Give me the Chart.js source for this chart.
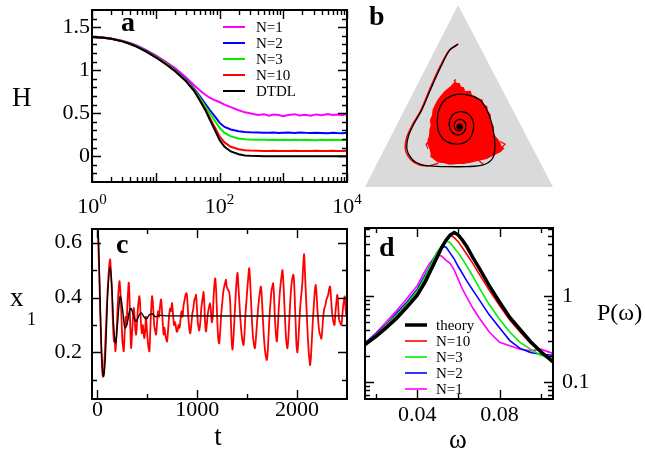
<!DOCTYPE html>
<html>
<head>
<meta charset="utf-8">
<script src="https://cdn.jsdelivr.net/npm/chart.js@4.4.1/dist/chart.umd.min.js"></script>
<style>
  html, body { margin: 0; padding: 0; background: #fff; }
  #wrap { position: relative; width: 645px; height: 456px; overflow: hidden; }
  #wrap canvas { position: absolute; left: 0; top: 0; }
</style>
</head>
<body>
<div id="wrap">
  <canvas id="pa" width="645" height="456"></canvas>
  <canvas id="pb" width="645" height="456"></canvas>
  <canvas id="pc" width="645" height="456"></canvas>
  <canvas id="pd" width="645" height="456"></canvas>
</div>
<script>
// ---------- panel a : entropy H vs time (log) ----------
var tA = [1, 1.5, 2, 3, 4, 5, 7, 10, 15, 20, 30, 40, 50, 60, 70, 85, 100, 120, 150, 200,
  250, 300, 400, 500, 600, 700, 850, 1000, 1200, 1500, 1800, 2200, 2700, 3300, 4000, 5000, 6000, 7000, 8500, 10000];
var hN1 = [1.386, 1.38, 1.369, 1.342, 1.315, 1.288, 1.237, 1.172, 1.09, 1.025, 0.915, 0.825, 0.76, 0.715, 0.68, 0.65, 0.63, 0.6, 0.57, 0.535,
  0.51, 0.5, 0.48, 0.487, 0.472, 0.485, 0.478, 0.466, 0.48, 0.489, 0.474, 0.482, 0.47, 0.486, 0.476, 0.49, 0.479, 0.485, 0.477, 0.49];
var hN2 = [1.386, 1.379, 1.367, 1.338, 1.31, 1.281, 1.228, 1.16, 1.075, 1.005, 0.89, 0.785, 0.69, 0.61, 0.54, 0.46, 0.39, 0.34, 0.31, 0.29,
  0.282, 0.278, 0.275, 0.274, 0.272, 0.276, 0.27, 0.273, 0.275, 0.271, 0.276, 0.272, 0.27, 0.274, 0.271, 0.268, 0.273, 0.27, 0.268, 0.272];
var hN3 = [1.386, 1.378, 1.366, 1.337, 1.308, 1.279, 1.225, 1.157, 1.07, 1.0, 0.88, 0.775, 0.67, 0.58, 0.5, 0.41, 0.33, 0.27, 0.23, 0.205,
  0.197, 0.193, 0.19, 0.19, 0.188, 0.191, 0.189, 0.19, 0.187, 0.19, 0.188, 0.191, 0.189, 0.186, 0.19, 0.188, 0.19, 0.187, 0.189, 0.19];
var hN10 = [1.386, 1.378, 1.365, 1.335, 1.305, 1.275, 1.22, 1.15, 1.06, 0.99, 0.87, 0.76, 0.645, 0.545, 0.45, 0.33, 0.23, 0.16, 0.11, 0.08,
  0.07, 0.065, 0.062, 0.061, 0.06, 0.062, 0.06, 0.061, 0.06, 0.062, 0.06, 0.061, 0.06, 0.062, 0.061, 0.06, 0.062, 0.06, 0.061, 0.062];
var hDTDL = [1.386, 1.378, 1.365, 1.335, 1.305, 1.275, 1.22, 1.15, 1.06, 0.99, 0.87, 0.76, 0.64, 0.535, 0.43, 0.3, 0.19, 0.11, 0.055, 0.022,
  0.009, 0.004, 0.001, 0, 0, 0, 0, 0, 0, 0, 0, 0, 0, 0, 0, 0, 0, 0, 0, 0];
var aYTicks = [0, 0.5, 1, 1.5];
var aYMinor = [-0.2, -0.1, 0.1, 0.2, 0.3, 0.4, 0.6, 0.7, 0.8, 0.9, 1.1, 1.2, 1.3, 1.4, 1.6];
var aXMajor = [1, 10, 100, 1000, 10000];
var aXMinor = [2, 3, 4, 5, 6, 7, 8, 9, 20, 30, 40, 50, 60, 70, 80, 90, 200, 300, 400, 500, 600, 700, 800, 900,
  2000, 3000, 4000, 5000, 6000, 7000, 8000, 9000];
var aXLabels = [1, 100, 10000];
var aXExp = ['0', '2', '4'];

// ---------- panel b : simplex trajectories ----------
var triX = [0, 1, 0.495, 0];
var triY = [0, 0, 1, 0];
var detX = [0.496, 0.452, 0.408, 0.355, 0.302, 0.257, 0.230, 0.222, 0.230, 0.266, 0.328, 0.435, 0.541, 0.629, 0.679, 0.691,
  0.682, 0.656, 0.612, 0.549, 0.488, 0.435, 0.399, 0.385, 0.395, 0.435, 0.496, 0.549, 0.576, 0.573, 0.544, 0.502,
  0.466, 0.448, 0.461, 0.496, 0.528, 0.537, 0.520, 0.491, 0.475, 0.482, 0.505, 0.518, 0.505, 0.493, 0.5, 0.502];
var detY = [0.784, 0.753, 0.670, 0.551, 0.423, 0.341, 0.276, 0.221, 0.185, 0.139, 0.117, 0.112, 0.112, 0.121, 0.158, 0.221,
  0.313, 0.405, 0.478, 0.505, 0.509, 0.487, 0.441, 0.368, 0.295, 0.249, 0.236, 0.258, 0.313, 0.368, 0.405, 0.414,
  0.396, 0.350, 0.304, 0.286, 0.304, 0.341, 0.368, 0.368, 0.346, 0.317, 0.309, 0.331, 0.346, 0.335, 0.324, 0.331];
var stoStartX = [0.494, 0.448, 0.402, 0.349, 0.296, 0.25, 0.222, 0.214, 0.223, 0.26, 0.325, 0.39];
var stoStartY = [0.786, 0.752, 0.668, 0.549, 0.42, 0.338, 0.273, 0.22, 0.18, 0.136, 0.115, 0.13];
var cloudX = [0.500, 0.508, 0.523, 0.530, 0.559, 0.566, 0.585, 0.598, 0.621, 0.628, 0.647, 0.650, 0.665, 0.662, 0.682, 0.679,
  0.691, 0.703, 0.718, 0.722, 0.736, 0.726, 0.718, 0.700, 0.682, 0.668, 0.647, 0.622, 0.594, 0.562, 0.523, 0.492,
  0.452, 0.422, 0.390, 0.372, 0.355, 0.352, 0.346, 0.336, 0.337, 0.345, 0.346, 0.353, 0.349, 0.360, 0.363, 0.374,
  0.390, 0.404, 0.426, 0.440, 0.461, 0.478];
var cloudY = [0.570, 0.548, 0.545, 0.522, 0.524, 0.502, 0.496, 0.480, 0.478, 0.452, 0.441, 0.418, 0.396, 0.362, 0.331, 0.300,
  0.276, 0.262, 0.240, 0.224, 0.213, 0.202, 0.194, 0.186, 0.176, 0.170, 0.158, 0.152, 0.145, 0.137, 0.130, 0.131,
  0.126, 0.134, 0.139, 0.151, 0.166, 0.188, 0.213, 0.236, 0.258, 0.284, 0.313, 0.338, 0.368, 0.393, 0.423, 0.448,
  0.478, 0.497, 0.524, 0.536, 0.555, 0.574];
var strayX = [0.49, 0.475, 0.485, null, 0.34, 0.325, 0.335, null, 0.72, 0.745, 0.73, null, 0.60, 0.63, 0.61];
var strayY = [0.56, 0.585, 0.59, null, 0.25, 0.235, 0.21, null, 0.25, 0.235, 0.22, null, 0.15, 0.125, 0.14];
var fixX = [0.502];
var fixY = [0.331];

// ---------- panel c : x1 vs t ----------
var tDet = [0, 15, 30, 45, 60, 75, 90, 105, 127, 145, 160, 180, 200, 215, 230, 250, 265, 277, 300, 320, 337, 360, 387,
  410, 437, 465, 490, 520, 550, 580, 620, 700, 2500];
var xDet = [0.72, 0.55, 0.33, 0.17, 0.112, 0.16, 0.29, 0.43, 0.511, 0.43, 0.31, 0.234, 0.30, 0.37, 0.405, 0.36, 0.31, 0.289,
  0.31, 0.35, 0.36, 0.335, 0.313, 0.33, 0.344, 0.33, 0.322, 0.337, 0.34, 0.33, 0.335, 0.333, 0.333];
var tSto = [0, 20, 40, 53, 65, 80, 95, 110, 120, 127, 135, 145, 155, 165, 172, 180, 190, 200, 210, 220, 228, 235, 243, 250,
  258, 263, 272, 282, 292, 300, 308, 313, 320, 328, 337, 345, 353, 363, 372, 380, 387, 395, 405, 413, 420, 428, 435, 445,
  455, 462, 470, 478, 485, 492, 500, 510, 520, 528, 537, 547, 553, 560, 568, 577, 587, 597, 607, 617, 627, 637, 645, 655,
  663, 670, 678, 688, 697, 707, 717, 727, 737, 747, 757, 767, 777, 787, 795, 803, 812, 822, 832, 842, 852, 862, 872, 883,
  893, 902, 912, 922, 930, 940, 950, 960, 970, 980, 987, 995, 1005, 1012, 1020, 1030, 1040, 1050, 1058, 1063, 1070, 1078,
  1087, 1095, 1105, 1115, 1127, 1135, 1145, 1155, 1163, 1172, 1180, 1188, 1196, 1205, 1213, 1220, 1230, 1240, 1250, 1260,
  1270, 1280, 1287, 1295, 1305, 1320, 1330, 1338, 1345, 1353, 1362, 1372, 1382, 1392, 1403, 1412, 1422, 1432, 1443, 1453,
  1463, 1473, 1483, 1493, 1503, 1512, 1520, 1528, 1537, 1547, 1557, 1567, 1577, 1587, 1597, 1607, 1617, 1627, 1637, 1645,
  1655, 1665, 1675, 1685, 1697, 1705, 1715, 1725, 1735, 1745, 1752, 1760, 1768, 1777, 1787, 1797, 1805, 1815, 1825, 1835,
  1845, 1853, 1862, 1872, 1882, 1892, 1903, 1912, 1922, 1932, 1942, 1952, 1963, 1972, 1980, 1988, 1995, 2003, 2012, 2022,
  2032, 2042, 2052, 2062, 2070, 2078, 2087, 2097, 2107, 2117, 2125, 2130, 2138, 2147, 2157, 2167, 2177, 2187, 2195, 2205,
  2215, 2225, 2235, 2243, 2252, 2262, 2272, 2282, 2292, 2302, 2312, 2320, 2330, 2338, 2347, 2355, 2365, 2375, 2383, 2393,
  2403, 2412, 2420, 2430, 2443, 2452, 2462, 2470, 2477, 2485, 2495, 2500];
var xSto = [0.70, 0.45, 0.2, 0.112, 0.14, 0.25, 0.38, 0.48, 0.525, 0.539, 0.49, 0.42, 0.3, 0.24, 0.25, 0.204, 0.26, 0.35, 0.42,
  0.46, 0.43, 0.38, 0.30, 0.24, 0.215, 0.204, 0.27, 0.33, 0.30, 0.38, 0.43, 0.454, 0.41, 0.3, 0.216, 0.26, 0.31, 0.362, 0.33,
  0.28, 0.265, 0.3, 0.36, 0.39, 0.405, 0.37, 0.31, 0.27, 0.3, 0.27, 0.252, 0.28, 0.33, 0.3, 0.26, 0.22, 0.204, 0.27, 0.35,
  0.405, 0.39, 0.35, 0.3, 0.28, 0.265, 0.31, 0.35, 0.33, 0.37, 0.393, 0.36, 0.3, 0.265, 0.29, 0.27, 0.25, 0.24, 0.28, 0.33,
  0.36, 0.35, 0.38, 0.34, 0.3, 0.31, 0.29, 0.275, 0.28, 0.3, 0.29, 0.32, 0.35, 0.33, 0.37, 0.39, 0.41, 0.416, 0.38, 0.32,
  0.28, 0.27, 0.3, 0.34, 0.36, 0.39, 0.4, 0.41, 0.37, 0.31, 0.29, 0.28, 0.31, 0.36, 0.39, 0.41, 0.42, 0.38, 0.31, 0.276, 0.3,
  0.34, 0.36, 0.38, 0.36, 0.31, 0.33, 0.4, 0.45, 0.47, 0.43, 0.36, 0.28, 0.24, 0.233, 0.28, 0.34, 0.38, 0.42, 0.44, 0.455,
  0.465, 0.44, 0.43, 0.42, 0.38, 0.3, 0.24, 0.21, 0.25, 0.32, 0.39, 0.45, 0.49, 0.44, 0.38, 0.32, 0.27, 0.24, 0.227, 0.27,
  0.34, 0.39, 0.44, 0.48, 0.507, 0.47, 0.4, 0.32, 0.26, 0.23, 0.215, 0.25, 0.3, 0.35, 0.39, 0.42, 0.44, 0.41, 0.34, 0.27,
  0.22, 0.19, 0.172, 0.2, 0.27, 0.34, 0.39, 0.43, 0.44, 0.452, 0.41, 0.33, 0.27, 0.24, 0.28, 0.35, 0.41, 0.45, 0.48, 0.5,
  0.46, 0.38, 0.3, 0.24, 0.215, 0.25, 0.32, 0.39, 0.44, 0.47, 0.483, 0.44, 0.36, 0.28, 0.22, 0.2, 0.24, 0.31, 0.37, 0.41,
  0.45, 0.52, 0.558, 0.5, 0.42, 0.34, 0.26, 0.2, 0.17, 0.154, 0.18, 0.24, 0.31, 0.37, 0.42, 0.446, 0.41, 0.35, 0.3, 0.27,
  0.26, 0.25, 0.28, 0.33, 0.36, 0.37, 0.39, 0.4, 0.41, 0.43, 0.44, 0.41, 0.36, 0.33, 0.31, 0.3, 0.34, 0.38, 0.41, 0.37,
  0.32, 0.31, 0.3, 0.33, 0.37, 0.39, 0.404, 0.36, 0.33, 0.34];
var cXMajor = [0, 1000, 2000];
var cXMinor = [500, 1500];
var cYMajor = [0.2, 0.4, 0.6];
var cYMinor = [0.1, 0.3, 0.5];

// ---------- panel d : power spectrum ----------
var omega = [0.0146, 0.02, 0.025, 0.03, 0.035, 0.04, 0.044, 0.046, 0.048, 0.05, 0.052, 0.054, 0.056, 0.058, 0.06, 0.062,
  0.064, 0.067, 0.07, 0.075, 0.08, 0.085, 0.09, 0.095, 0.1, 0.106];
var pTheory = [0.272, 0.339, 0.427, 0.55, 0.741, 1.02, 1.48, 1.86, 2.34, 2.95, 3.72, 4.47, 5.13, 5.5, 5.13, 4.47, 3.8, 2.82,
  2.14, 1.32, 0.851, 0.562, 0.407, 0.295, 0.225, 0.17];
var pN10 = [0.275, 0.347, 0.447, 0.575, 0.776, 1.07, 1.55, 1.95, 2.45, 3.09, 3.8, 4.57, 5.13, 4.79, 4.27, 3.63, 3.09, 2.4,
  1.82, 1.17, 0.776, 0.525, 0.38, 0.282, 0.224, 0.166];
var pN3 = [0.275, 0.355, 0.457, 0.603, 0.813, 1.15, 1.7, 2.14, 2.69, 3.31, 3.89, 4.37, 4.17, 3.63, 3.16, 2.69, 2.24, 1.7,
  1.26, 0.794, 0.537, 0.38, 0.288, 0.24, 0.204, 0.186];
var pN2 = [0.282, 0.363, 0.468, 0.631, 0.851, 1.2, 1.78, 2.19, 2.75, 3.31, 3.76, 3.72, 3.16, 2.69, 2.19, 1.82, 1.51, 1.17,
  0.912, 0.603, 0.427, 0.302, 0.245, 0.219, 0.209, 0.204];
var pN1 = [0.282, 0.372, 0.501, 0.676, 0.933, 1.32, 2.0, 2.4, 2.75, 3.02, 2.9, 2.6, 2.4, 2.0, 1.55, 1.2, 0.977, 0.724,
  0.562, 0.38, 0.288, 0.263, 0.24, 0.229, 0.24, 0.214];
var dXMajor = [0.04, 0.08];
var dXMinor = [0.02, 0.06, 0.1];
var dYMajor = [0.1, 1];
var dYMinor = [0.07, 0.08, 0.09, 0.2, 0.3, 0.4, 0.5, 0.6, 0.7, 0.8, 0.9, 2, 3, 4, 5, 6];

// ---------- helpers ----------
var SERIF = '"Liberation Serif", "Times New Roman", serif';
var MAGENTA = '#ff00ff', BLUE = '#0000ff', GREEN = '#00ee00', RED = '#ff0000', BLACK = '#000000';

function pts(xs, ys) {
  return xs.map(function (x, i) { return { x: x, y: ys[i] }; });
}
function fixedAxis(size) {
  return function (s) {
    if (s.isHorizontal()) s.height = size; else s.width = size;
    s.paddingLeft = 0; s.paddingRight = 0; s.paddingTop = 0; s.paddingBottom = 0;
  };
}
function setTicks(values) {
  return function (s) { s.ticks = values.map(function (v) { return { value: v }; }); };
}
function line(label, xs, ys, color, width, order) {
  return { label: label, data: pts(xs, ys), borderColor: color, borderWidth: width, showLine: true,
    pointRadius: 0, fill: false, tension: 0, order: order };
}
function tickFont() { return { family: SERIF, size: 22, lineHeight: 1 }; }

function baseOptions(padding, scales) {
  return {
    responsive: false, animation: false, devicePixelRatio: 1,
    layout: { padding: padding },
    plugins: { legend: { display: false }, tooltip: { enabled: false } },
    scales: scales
  };
}

function txt(ctx, s, x, y, size, opts) {
  opts = opts || {};
  ctx.font = (opts.bold ? 'bold ' : '') + size + 'px ' + SERIF;
  ctx.textAlign = opts.align || 'left';
  ctx.textBaseline = opts.baseline || 'alphabetic';
  ctx.fillStyle = '#000';
  ctx.fillText(s, x, y);
}

// frame with inward ticks on all four sides, plus texts and legend
function framePlugin(cfg) {
  return {
    id: 'frame',
    afterDraw: function (chart) {
      var ctx = chart.ctx, a = chart.chartArea, sx = chart.scales.x, sy = chart.scales.y;
      ctx.save();
      if (cfg.ticks) {
        ctx.strokeStyle = '#000';
        ctx.lineWidth = 1.4;
        ctx.beginPath();
        [[cfg.xMajor, 9], [cfg.xMinor, 5]].forEach(function (g) {
          g[0].forEach(function (v) {
            var p = Math.round(sx.getPixelForValue(v)) + 0.5;
            ctx.moveTo(p, a.bottom); ctx.lineTo(p, a.bottom - g[1]);
            ctx.moveTo(p, a.top); ctx.lineTo(p, a.top + g[1]);
          });
        });
        [[cfg.yMajor, 9], [cfg.yMinor, 5]].forEach(function (g) {
          g[0].forEach(function (v) {
            var p = Math.round(sy.getPixelForValue(v)) + 0.5;
            ctx.moveTo(a.left, p); ctx.lineTo(a.left + g[1], p);
            ctx.moveTo(a.right, p); ctx.lineTo(a.right - g[1], p);
          });
        });
        ctx.stroke();
        ctx.lineWidth = 2;
        ctx.strokeRect(a.left, a.top, a.right - a.left, a.bottom - a.top);
      }
      if (cfg.legend) {
        var L = cfg.legend;
        L.items.forEach(function (idx, i) {
          var ds = chart.data.datasets[idx];
          var y = L.y + i * L.dy;
          ctx.strokeStyle = ds.borderColor;
          ctx.lineWidth = ds.borderWidth + (L.extra || 0);
          ctx.beginPath(); ctx.moveTo(L.x0, y); ctx.lineTo(L.x1, y); ctx.stroke();
          txt(ctx, ds.label, L.tx, y + 1, L.size, { baseline: 'middle' });
        });
      }
      if (cfg.draw) cfg.draw(chart, ctx);
      ctx.restore();
    }
  };
}

// ---------- panel a ----------
new Chart(document.getElementById('pa'), {
  type: 'scatter',
  data: { datasets: [
    line('N=1', tA, hN1, MAGENTA, 2, 4),
    line('N=2', tA, hN2, BLUE, 2, 3),
    line('N=3', tA, hN3, GREEN, 2, 2),
    line('N=10', tA, hN10, RED, 2, 1),
    line('DTDL', tA, hDTDL, BLACK, 2, 0)
  ] },
  options: baseOptions({ left: 52, right: 298, top: 10, bottom: 274 }, {
    x: { type: 'logarithmic', min: 1, max: 10000, display: false },
    y: { type: 'linear', min: -0.3, max: 1.7, position: 'left',
      grid: { display: false, drawTicks: false }, border: { display: false },
      ticks: { font: tickFont(), color: '#000', padding: 2, callback: function (v) { return String(v); } },
      afterBuildTicks: setTicks(aYTicks), afterFit: fixedAxis(40) }
  }),
  plugins: [framePlugin({
    ticks: true, xMajor: aXMajor, xMinor: aXMinor, yMajor: aYTicks, yMinor: aYMinor,
    legend: { items: [0, 1, 2, 3, 4], x0: 223, x1: 245, tx: 256, y: 27, dy: 16, size: 15 },
    draw: function (chart, ctx) {
      var sx = chart.scales.x;
      aXLabels.forEach(function (v, i) {
        ctx.font = '22px ' + SERIF; var w1 = ctx.measureText('10').width;
        ctx.font = '15px ' + SERIF; var w2 = ctx.measureText(aXExp[i]).width;
        var x0 = sx.getPixelForValue(v) - (w1 + w2) / 2;
        txt(ctx, '10', x0, 213, 22);
        txt(ctx, aXExp[i], x0 + w1, 204, 15);
      });
      txt(ctx, 'H', 12, 106, 27);
      txt(ctx, 'a', 121, 31, 28, { bold: true });
    }
  })]
});

// ---------- panel b ----------
new Chart(document.getElementById('pb'), {
  type: 'scatter',
  data: { datasets: [
    { data: pts(fixX, fixY), pointRadius: 3, pointBackgroundColor: BLACK, pointBorderWidth: 0, order: 0 },
    { data: pts(detX, detY), borderColor: BLACK, borderWidth: 1.3, showLine: true, pointRadius: 0, tension: 0.35, order: 1 },
    { data: pts(strayX, strayY), borderColor: RED, borderWidth: 1.2, showLine: true, pointRadius: 0, spanGaps: false, order: 2 },
    { data: pts(cloudX, cloudY), borderColor: RED, borderWidth: 1.5, backgroundColor: RED, showLine: true, pointRadius: 0,
      fill: 'shape', order: 3 },
    { data: pts(stoStartX, stoStartY), borderColor: RED, borderWidth: 1.5, showLine: true, pointRadius: 0, tension: 0.3, order: 4 },
    { data: pts(triX, triY), borderWidth: 0, borderColor: 'rgba(0,0,0,0)', backgroundColor: '#dadada', showLine: true,
      pointRadius: 0, fill: 'shape', order: 5 }
  ] },
  options: baseOptions({ left: 365, right: 92, top: 5, bottom: 269 }, {
    x: { type: 'linear', min: 0, max: 1, display: false },
    y: { type: 'linear', min: 0, max: 1, display: false }
  }),
  plugins: [framePlugin({
    ticks: false,
    draw: function (chart, ctx) { txt(ctx, 'b', 369, 25, 28, { bold: true }); }
  })]
});

// ---------- panel c ----------
new Chart(document.getElementById('pc'), {
  type: 'scatter',
  data: { datasets: [
    Object.assign(line('stochastic', tSto, xSto, RED, 1.8, 1), { tension: 0.3 }),
    Object.assign(line('deterministic', tDet, xDet, BLACK, 1.4, 0), { tension: 0.4 })
  ] },
  options: baseOptions({ left: 52, right: 298, top: 229, bottom: 27 }, {
    x: { type: 'linear', min: -55, max: 2500, position: 'bottom',
      grid: { display: false, drawTicks: false }, border: { display: false },
      ticks: { font: tickFont(), color: '#000', padding: 0, maxRotation: 0, callback: function (v) { return String(v); } },
      afterBuildTicks: setTicks(cXMajor), afterFit: fixedAxis(30) },
    y: { type: 'linear', min: 0.03, max: 0.65, position: 'left',
      grid: { display: false, drawTicks: false }, border: { display: false },
      ticks: { font: tickFont(), color: '#000', padding: 10, callback: function (v) { return String(v); } },
      afterBuildTicks: setTicks(cYMajor), afterFit: fixedAxis(40) }
  }),
  plugins: [framePlugin({
    ticks: true, xMajor: cXMajor, xMinor: cXMinor, yMajor: cYMajor, yMinor: cYMinor,
    draw: function (chart, ctx) {
      txt(ctx, 'x', 10, 306, 27);
      txt(ctx, '1', 27, 325, 18);
      txt(ctx, 't', 218, 445, 27, { align: 'center' });
      txt(ctx, 'c', 116, 253, 28, { bold: true });
    }
  })]
});

// ---------- panel d ----------
new Chart(document.getElementById('pd'), {
  type: 'scatter',
  data: { datasets: [
    line('theory', omega, pTheory, BLACK, 3.5, 0),
    line('N=10', omega, pN10, RED, 1.6, 1),
    line('N=3', omega, pN3, GREEN, 1.6, 2),
    line('N=2', omega, pN2, BLUE, 1.6, 3),
    line('N=1', omega, pN1, MAGENTA, 1.6, 4)
  ] },
  options: baseOptions({ left: 365, right: 42, top: 228, bottom: 27 }, {
    x: { type: 'linear', min: 0.0146, max: 0.106, position: 'bottom',
      grid: { display: false, drawTicks: false }, border: { display: false },
      ticks: { font: tickFont(), color: '#000', padding: 5, maxRotation: 0, callback: function (v) { return v.toFixed(2); } },
      afterBuildTicks: setTicks(dXMajor), afterFit: fixedAxis(30) },
    y: { type: 'logarithmic', min: 0.063, max: 6.2, position: 'right',
      grid: { display: false, drawTicks: false }, border: { display: false },
      ticks: { font: tickFont(), color: '#000', padding: 9, callback: function (v) { return String(v); } },
      afterBuildTicks: setTicks(dYMajor), afterFit: fixedAxis(50) }
  }),
  plugins: [framePlugin({
    ticks: true, xMajor: dXMajor, xMinor: dXMinor, yMajor: dYMajor, yMinor: dYMinor,
    legend: { items: [0, 1, 2, 3, 4], x0: 405, x1: 427, tx: 436, y: 325, dy: 16, size: 15 },
    draw: function (chart, ctx) {
      txt(ctx, '\u03c9', 458, 448, 27, { align: 'center' });
      txt(ctx, 'P(\u03c9)', 597, 320, 24);
      txt(ctx, 'd', 379, 256, 28, { bold: true });
    }
  })]
});
</script>
</body>
</html>
